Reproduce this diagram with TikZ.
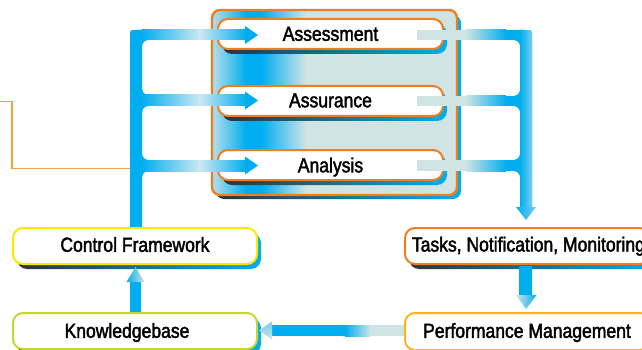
\documentclass[tikz,border=0pt]{standalone}
\usepackage{fontspec}
\setmainfont{Liberation Sans}
\newfontfamily\lblfont{Liberation Sans}[FakeStretch=0.86, FakeBold=2]
\definecolor{cy}{RGB}{0,174,239}
\definecolor{lt}{RGB}{208,228,228}
\definecolor{ltii}{RGB}{205,232,240}
\definecolor{ltc}{RGB}{120,205,238}
\definecolor{ltb}{RGB}{185,222,232}
\definecolor{dk}{RGB}{50,50,50}
\definecolor{orng}{RGB}{240,125,30}
\definecolor{ylw}{RGB}{255,232,0}
\definecolor{ygr}{RGB}{196,214,50}
\definecolor{oyl}{RGB}{250,180,30}
\definecolor{oline}{RGB}{246,162,60}
\tikzset{
  box/.style={draw, line width=2pt, fill=white, rounded corners=10pt, inner sep=0pt},
  lbl/.style={font=\lblfont\fontsize{20.4}{23}\selectfont, inner sep=0pt, text height=14.6pt, text depth=0pt},
  shad/.style={left color=dk, right color=cy, rounded corners=10pt},
  gap/.style={fill=white, rounded corners=7pt},
}
\begin{document}
\begin{tikzpicture}[x=1pt,y=-1pt]
\useasboundingbox (0,0) rectangle (642,350);
\clip (0,0) rectangle (642,350);

% orange thin line
\coordinate (ostart) at (0,101.7);
\coordinate (oend) at (130,168.3);
\draw[oline, line width=1.2pt] (ostart) -- (12,101.7) -- (12,168.3) -- (oend);

% container
\shade[shad, rounded corners=8pt] (216,15) rectangle (461,199);
\begin{scope}
  \clip[rounded corners=8pt] (212,10) rectangle (457,195);
  \shade[left color=ltb, right color=cy] (212,10) rectangle (246,195);
  \fill[cy] (245.5,10) rectangle (262,195);
  \shade[left color=cy, right color=lt] (261.5,10) rectangle (306,195);
  \fill[lt] (305.5,10) rectangle (457,195);
\end{scope}
\node[draw=orng, line width=2.4pt, rounded corners=8pt, minimum width=245pt, minimum height=185pt, inner sep=0pt] (cont) at (334.5,102.5) {};

% inner boxes
\shade[shad] (222,24) rectangle (447,54);
\node[box, draw=orng, minimum width=225pt, minimum height=30pt] (assess) at (330.5,34) {};
\node[lbl] (tassess) at (330.5,33.5) {Assessment};
\shade[shad] (222,91) rectangle (447,121);
\node[box, draw=orng, minimum width=225pt, minimum height=30pt] (assur) at (330.5,101) {};
\node[lbl] (tassur) at (330.5,100) {Assurance};
\shade[shad] (222,155) rectangle (447,185);
\node[box, draw=orng, minimum width=225pt, minimum height=30pt] (anal) at (330.5,165) {};
\node[lbl] (tanal) at (330.5,165) {Analysis};

% left bus
\fill[cy] (130,228) -- (130,37) .. controls (130,30) .. (137,30) -- (175,30) -- (175,228) -- cycle;
\fill[gap] (142,40) rectangle (200,95);
\fill[gap] (142,106) rectangle (200,160);
\fill[gap] (142,171) rectangle (200,240);
\foreach \a/\b in {30/40, 95/106, 160/171}{
  \shade[left color=cy, right color=ltii] (141.5,\a) rectangle (200,\b);
  \shade[left color=ltii, right color=cy] (199.5,\a) rectangle (246,\b);
}
\shade[left color=cy, middle color=ltc, right color=cy] (130,228) -- (130,37) .. controls (130,30) .. (137,30) -- (142,30) -- (142,228) -- cycle;
\fill[cy] (245,26) -- (258,35) -- (245,44) -- cycle;
\fill[cy] (245,91.5) -- (258,100.5) -- (245,109.5) -- cycle;
\fill[cy] (245,156.5) -- (258,165.5) -- (245,174.5) -- cycle;

% right bus
\fill[cy] (480,30) -- (525,30) .. controls (532,30) .. (532,37) -- (532,208) -- (480,208) -- cycle;
\fill[gap] (465,40) rectangle (520,96);
\fill[gap] (465,106) rectangle (520,160);
\fill[gap] (465,171) rectangle (520,235);
\foreach \a/\b in {30/40, 96/106, 160/171}{
  \fill[lt] (417,\a) rectangle (466,\b);
  \shade[left color=lt, right color=cy] (465.5,\a) rectangle (506,\b);
  \fill[cy] (505.5,\a) rectangle (521,\b);
}
\shade[left color=cy, right color=ltc] (520,208) -- (520,30) -- (525,30) .. controls (532,30) .. (532,37) -- (532,208) -- cycle;
\shade[left color=cy, right color=ltc] (516,207) -- (536,207) -- (526,220) -- cycle;

% lower left boxes
\shade[shad] (17,233) rectangle (261,269);
\node[box, draw=ylw, minimum width=244pt, minimum height=36pt] (cf) at (135,246) {};
\node[lbl] (tcf) at (135,244.5) {Control Framework};
% arrow knowledgebase -> control framework
\shade[left color=cy, middle color=ltii, right color=cy] (130,281) rectangle (141,314);
\shade[left color=cy, right color=lt] (126.5,282) -- (135.5,267) -- (144.5,282) -- cycle;
\shade[shad] (17,318) rectangle (261,354);
\node[box, draw=ygr, minimum width=244pt, minimum height=36pt] (kb) at (135,331) {};
\node[lbl] (tkb) at (127,330.5) {Knowledgebase};

% lower right boxes
\shade[shad] (409,233) rectangle (654,269);
\node[box, draw=orng, minimum width=245pt, minimum height=36pt] (tnm) at (527.5,246) {};
\node[lbl, anchor=west] (ttnm) at (411.7,244.2) {Tasks, Notification, Monitoring};
% arrow tasks -> performance
\shade[left color=cy, middle color=ltii, right color=cy] (519.5,266) rectangle (532,296);
\shade[left color=lt, right color=cy] (516,295) -- (536.5,295) -- (526,309) -- cycle;
% arrow performance -> knowledgebase
\fill[cy] (271,325) rectangle (345.5,336);
\shade[left color=cy, right color=lt] (345,325) rectangle (370.5,336);
\fill[lt] (370,325) rectangle (406,336);
\shade[top color=ltc, bottom color=lt] (272,321.5) -- (259,330.5) -- (272,339.5) -- cycle;
\shade[shad] (409,318) rectangle (654,356);
\node[box, draw=oyl, minimum width=245pt, minimum height=37pt] (pm) at (527.5,331.5) {};
\node[lbl] (tpm) at (527,330.5) {Performance Management};
\end{tikzpicture}
\end{document}
